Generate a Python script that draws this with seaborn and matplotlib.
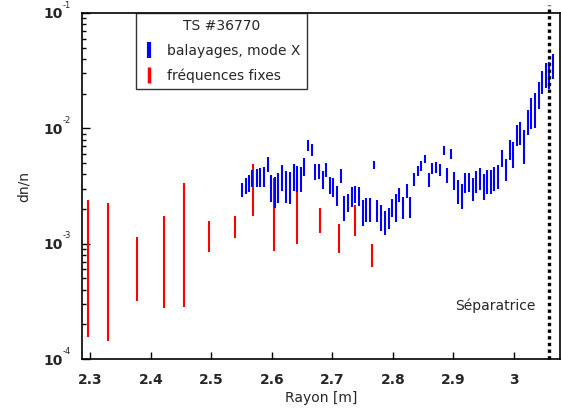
import numpy as np
import pandas as pd
import matplotlib
matplotlib.use("Agg")
import matplotlib.pyplot as plt
from matplotlib.lines import Line2D
import seaborn as sns

# ---- data -------------------------------------------------------------
# swept reflectometry (mode X): radius [m], low / high dn/n
blue_r = [2.551, 2.557, 2.563, 2.568, 2.575, 2.581, 2.587, 2.593, 2.599, 2.605,
          2.611, 2.617, 2.624, 2.630, 2.636, 2.642, 2.648, 2.653, 2.660, 2.666,
          2.671, 2.678, 2.684, 2.690, 2.696, 2.702, 2.708, 2.714, 2.720, 2.726,
          2.732, 2.738, 2.744, 2.750, 2.756, 2.762, 2.769, 2.774, 2.781, 2.787,
          2.793, 2.799, 2.805, 2.811, 2.817, 2.823, 2.829, 2.835, 2.841, 2.847,
          2.853, 2.860, 2.865, 2.871, 2.878, 2.884, 2.890, 2.896, 2.902, 2.908,
          2.914, 2.920, 2.926, 2.932, 2.938, 2.944, 2.950, 2.956, 2.962, 2.968,
          2.974, 2.981, 2.987, 2.993, 2.999, 3.005, 3.011, 3.017, 3.023, 3.029,
          3.035, 3.041, 3.047, 3.053, 3.059, 3.065]
blue_lo = [2.56e-3, 2.70e-3, 2.79e-3, 3.09e-3, 3.13e-3, 3.09e-3, 3.13e-3, 4.17e-3, 2.30e-3, 2.04e-3,
           2.27e-3, 2.89e-3, 2.24e-3, 2.21e-3, 2.85e-3, 2.79e-3, 2.83e-3, 3.83e-3, 6.35e-3, 5.79e-3,
           3.53e-3, 3.65e-3, 2.99e-3, 3.77e-3, 2.68e-3, 2.53e-3, 2.14e-3, 3.37e-3, 1.58e-3, 1.87e-3,
           2.07e-3, 2.26e-3, 2.14e-3, 1.43e-3, 1.53e-3, 1.55e-3, 4.40e-3, 1.53e-3, 1.30e-3, 1.19e-3,
           1.34e-3, 1.69e-3, 1.55e-3, 2.32e-3, 1.64e-3, 2.48e-3, 1.68e-3, 3.19e-3, 3.83e-3, 4.25e-3,
           4.99e-3, 3.13e-3, 4.04e-3, 4.09e-3, 3.83e-3, 5.82e-3, 3.39e-3, 5.45e-3, 2.93e-3, 2.21e-3,
           2.00e-3, 2.74e-3, 2.79e-3, 2.33e-3, 2.74e-3, 2.93e-3, 2.40e-3, 2.70e-3, 2.70e-3, 2.89e-3,
           2.95e-3, 4.61e-3, 3.48e-3, 5.35e-3, 4.55e-3, 6.97e-3, 7.11e-3, 4.86e-3, 8.69e-3, 9.90e-3,
           1.01e-2, 1.48e-2, 1.98e-2, 2.24e-2, 2.21e-2, 2.70e-2]
blue_hi = [3.37e-3, 3.70e-3, 3.90e-3, 4.31e-3, 4.40e-3, 4.52e-3, 4.58e-3, 5.63e-3, 3.96e-3, 3.77e-3,
           4.12e-3, 4.80e-3, 4.23e-3, 4.17e-3, 4.86e-3, 4.74e-3, 4.65e-3, 5.49e-3, 7.98e-3, 7.36e-3,
           4.93e-3, 4.93e-3, 4.25e-3, 4.99e-3, 3.77e-3, 3.70e-3, 3.19e-3, 4.40e-3, 2.61e-3, 2.70e-3,
           3.09e-3, 3.19e-3, 3.09e-3, 2.41e-3, 2.48e-3, 2.50e-3, 5.20e-3, 2.37e-3, 2.17e-3, 1.91e-3,
           2.03e-3, 2.45e-3, 2.68e-3, 3.05e-3, 2.53e-3, 3.26e-3, 2.53e-3, 4.06e-3, 4.74e-3, 5.20e-3,
           5.86e-3, 4.09e-3, 4.99e-3, 5.09e-3, 4.86e-3, 6.97e-3, 4.55e-3, 6.66e-3, 4.17e-3, 3.53e-3,
           3.31e-3, 4.09e-3, 4.09e-3, 3.73e-3, 4.25e-3, 4.55e-3, 4.04e-3, 4.31e-3, 4.37e-3, 4.61e-3,
           4.77e-3, 6.44e-3, 5.45e-3, 7.98e-3, 7.60e-3, 1.06e-2, 1.13e-2, 9.61e-3, 1.43e-2, 1.85e-2,
           2.03e-2, 2.50e-2, 3.15e-2, 3.70e-2, 3.77e-2, 4.40e-2]

# fixed frequencies
red_r = [2.296, 2.330, 2.377, 2.421, 2.455, 2.497, 2.539, 2.569, 2.603, 2.641,
         2.679, 2.711, 2.738, 2.766]
red_lo = [1.55e-4, 1.43e-4, 3.18e-4, 2.77e-4, 2.85e-4, 8.4e-4, 1.13e-3, 1.73e-3, 8.7e-4, 9.9e-4,
          1.24e-3, 8.3e-4, 1.17e-3, 6.3e-4]
red_hi = [2.40e-3, 2.26e-3, 1.15e-3, 1.73e-3, 3.39e-3, 1.58e-3, 1.73e-3, 4.93e-3, 3.70e-3, 3.53e-3,
          2.04e-3, 1.48e-3, 2.18e-3, 9.9e-4]

separatrix_r = 3.058
x_ticks = [2.3, 2.4, 2.5, 2.6, 2.7, 2.8, 2.9, 3.0]
x_ticklabels = ["2.3", "2.4", "2.5", "2.6", "2.7", "2.8", "2.9", "3"]
y_ticks = [1e-4, 1e-3, 1e-2, 1e-1]
y_tick_base = ["10", "10", "10", "10"]
y_tick_exp = ["-4", "-3", "-2", "-1"]
legend_title = "TS #36770"
legend_labels = ["balayages, mode X", "fréquences fixes"]


def long_form(r, lo, hi):
    rows = []
    for i, (x, a, b) in enumerate(zip(r, lo, hi)):
        rows.append({"r": x, "v": a, "id": i})
        rows.append({"r": x, "v": b, "id": i})
    return pd.DataFrame(rows)


df_blue = long_form(blue_r, blue_lo, blue_hi)
df_red = long_form(red_r, red_lo, red_hi)

# ---- figure -----------------------------------------------------------
sns.set_theme(style="white")
plt.rcParams["font.family"] = ["DejaVu Sans"]

fig = plt.figure(figsize=(5.61, 4.15), dpi=100)
ax = fig.add_axes([0.1462, 0.1349, 0.8520, 0.8338])
ax.set_yscale("log")

sns.lineplot(data=df_red, x="r", y="v", units="id", estimator=None, sort=False,
             color="#ff0000", linewidth=1.5, solid_capstyle="butt", ax=ax, legend=False)
sns.lineplot(data=df_blue, x="r", y="v", units="id", estimator=None, sort=False,
             color="#0000ff", linewidth=1.5, solid_capstyle="butt", ax=ax, legend=False)

ax.plot([separatrix_r, separatrix_r], [1e-4, 0.117], color="black",
        linestyle=(0, (1, 1)), linewidth=2.4, clip_on=False, zorder=5)
ax.text(3.036, 2.9e-4, "Séparatrice", ha="right", va="center", fontsize=10)

ax.set_xlim(2.2863, 3.0764)
ax.set_ylim(1e-4, 1e-1)
ax.set_xticks(x_ticks)
ax.set_xticklabels(x_ticklabels, fontweight="bold")
ax.set_yticks(y_ticks)
ax.set_yticklabels(y_tick_base, fontweight="bold")
ax.yaxis.set_minor_locator(matplotlib.ticker.LogLocator(base=10, subs=np.arange(2, 10)))
ax.yaxis.set_minor_formatter(matplotlib.ticker.NullFormatter())
ax.xaxis.set_minor_locator(matplotlib.ticker.NullLocator())
ax.tick_params(axis="x", which="major", direction="in", length=5, width=1,
               labelsize=10, pad=10, color="black", bottom=True)
ax.tick_params(axis="y", which="major", direction="in", length=6, width=1,
               labelsize=10, pad=14, color="black", left=True)
ax.tick_params(axis="y", which="minor", direction="in", length=3, width=1,
               left=True, color="black")

# small exponents next to the "10" tick labels
for val, ex in zip(y_ticks, y_tick_exp):
    ax.annotate(ex, xy=(0, val), xycoords=("axes fraction", "data"),
                xytext=(-14, 2.5), textcoords="offset points",
                fontsize=6, ha="left", va="bottom", annotation_clip=False)

for s in ax.spines.values():
    s.set_color("black")
    s.set_linewidth(1.2)

ax.set_xlabel("Rayon [m]", fontsize=10, labelpad=3)
ax.set_ylabel("dn/n", fontsize=10, labelpad=9)

handles = [Line2D([], [], color="#0000ff", marker="|", linestyle="none",
                  markersize=11, markeredgewidth=3),
           Line2D([], [], color="#ff0000", marker="|", linestyle="none",
                  markersize=11, markeredgewidth=2.5)]
leg = ax.legend(handles, legend_labels, title=legend_title, loc="upper left",
                bbox_to_anchor=(0.113, 1.0), borderaxespad=0, fontsize=10,
                title_fontsize=10, frameon=True, fancybox=False,
                handlelength=1.0, handletextpad=0.8, labelspacing=0.75,
                borderpad=0.45)
leg.get_frame().set_edgecolor("black")
leg.get_frame().set_linewidth(1.0)

fig.savefig("out.png", dpi=100)
